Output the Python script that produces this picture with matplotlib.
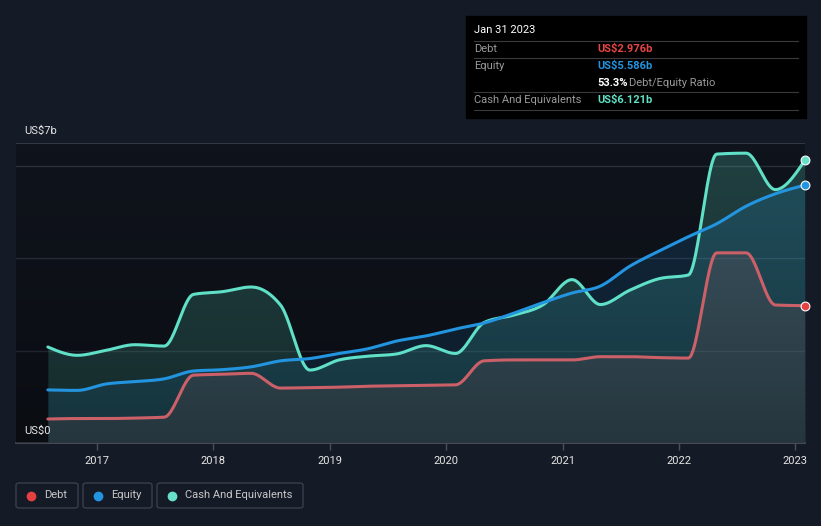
import numpy as np
import pandas as pd
import matplotlib
matplotlib.use('Agg')
import matplotlib.pyplot as plt
import matplotlib.dates as mdates
from matplotlib.patches import FancyBboxPatch, Rectangle
from matplotlib.lines import Line2D

plt.rcParams['font.family'] = ['Roboto', 'DejaVu Sans']

# quarterly balance sheet values, US$ billions
dates = pd.date_range('2016-07-31', '2023-01-31', freq='3ME')
debt = [0.52, 0.53, 0.53, 0.54, 0.56, 1.47, 1.49, 1.51, 1.19, 1.20, 1.21, 1.23, 1.24, 1.25,
        1.26, 1.78, 1.80, 1.80, 1.80, 1.87, 1.87, 1.85, 1.84, 4.12, 4.12, 2.99, 2.976]
equity = [1.15, 1.14, 1.28, 1.33, 1.39, 1.56, 1.59, 1.65, 1.78, 1.83, 1.94, 2.04, 2.21, 2.32,
          2.47, 2.60, 2.81, 3.04, 3.25, 3.40, 3.83, 4.16, 4.47, 4.75, 5.13, 5.40, 5.586]
cash = [2.08, 1.90, 2.01, 2.13, 2.10, 3.22, 3.28, 3.38, 2.99, 1.58, 1.80, 1.88, 1.93, 2.11,
        1.94, 2.61, 2.77, 2.99, 3.54, 3.00, 3.31, 3.56, 3.64, 6.26, 6.28, 5.49, 6.121]
years = [2017, 2018, 2019, 2020, 2021, 2022, 2023]

BG = '#151b26'
PLOT_BG = '#0f131b'
C_DEBT = '#cc6068'
C_EQ = '#2394df'
C_CASH = '#5fe0c7'
W, H = 821, 526


def fx(px):
    return px / W


def fy(py):
    return 1 - py / H


def monotone_curve(x, y, n=24):
    # monotone cubic (same idea as d3 curveMonotoneX), only for drawing
    x = np.asarray(x, float)
    y = np.asarray(y, float)
    h = np.diff(x)
    s = np.diff(y) / h
    m = np.zeros_like(y)
    for k in range(1, len(y) - 1):
        s0, s1, h0, h1 = s[k - 1], s[k], h[k - 1], h[k]
        p = (s0 * h1 + s1 * h0) / (h0 + h1)
        m[k] = (np.sign(s0) + np.sign(s1)) * min(abs(s0), abs(s1), 0.5 * abs(p))
    m[0] = (3 * s[0] - m[1]) / 2
    m[-1] = (3 * s[-1] - m[-2]) / 2
    xs, ys = [], []
    for k in range(len(h)):
        t = np.linspace(0, 1, n, endpoint=False)
        h00 = 2 * t**3 - 3 * t**2 + 1
        h10 = t**3 - 2 * t**2 + t
        h01 = -2 * t**3 + 3 * t**2
        h11 = t**3 - t**2
        xs.append(x[k] + t * h[k])
        ys.append(h00 * y[k] + h10 * h[k] * m[k] + h01 * y[k + 1] + h11 * h[k] * m[k + 1])
    xs.append([x[-1]])
    ys.append([y[-1]])
    return np.concatenate(xs), np.concatenate(ys)


fig = plt.figure(figsize=(W / 100, H / 100), dpi=100, facecolor=BG)
ax = fig.add_axes([fx(16), fy(443), fx(805) - fx(16), fy(143) - fy(443)])
ax.set_facecolor(PLOT_BG)

xnum = mdates.date2num(dates)
x_left = mdates.date2num(pd.Timestamp('2016-04-22'))
x_right = mdates.date2num(pd.Timestamp('2023-02-01'))
ax.set_xlim(x_left, x_right)
ax.set_ylim(0, 6.5)

for v in [2, 4, 6]:
    ax.axhline(v, color='#2a303a', lw=1, zorder=1)
ax.axhline(6.5, color='#3a404a', lw=1.2, zorder=1)

# areas
xs, ys_c = monotone_curve(xnum, cash)
_, ys_e = monotone_curve(xnum, equity)
_, ys_d = monotone_curve(xnum, debt)
ax.fill_between(xs, 0, ys_c, color=C_CASH, alpha=0.22, lw=0, zorder=2)
ax.fill_between(xs, 0, ys_e, color=C_EQ, alpha=0.17, lw=0, zorder=2)
ax.fill_between(xs, 0, ys_d, color='#d0707a', alpha=0.15, lw=0, zorder=2)

# darken towards the bottom
grad = np.linspace(0, 1, 256).reshape(-1, 1)
ax.imshow(np.dstack([np.zeros_like(grad)] * 3 + [grad ** 1.3 * 0.35]), aspect='auto',
          extent=[x_left, x_right, 0, 6.5], origin='upper', zorder=3)
ax.set_xlim(x_left, x_right)
ax.set_ylim(0, 6.5)

ax.plot(xs, ys_c, color=C_CASH, lw=2.2, zorder=5, solid_capstyle='round')
ax.plot(xs, ys_e, color=C_EQ, lw=2.2, zorder=6, solid_capstyle='round')
ax.plot(xs, ys_d, color=C_DEBT, lw=2.2, zorder=4, solid_capstyle='round')

ax.scatter([xnum[-1]], [cash[-1]], s=40, color='#68e0c9', edgecolor='white', lw=0.8, zorder=8, clip_on=False)
ax.scatter([xnum[-1]], [equity[-1]], s=40, color=C_EQ, edgecolor='white', lw=0.8, zorder=8, clip_on=False)
ax.scatter([xnum[-1]], [debt[-1]], s=40, color='#e64141', edgecolor='white', lw=0.8, zorder=8, clip_on=False)

for s in ['top', 'right', 'left']:
    ax.spines[s].set_visible(False)
ax.spines['bottom'].set_color('#4a505a')
ax.spines['bottom'].set_linewidth(1.2)
ax.set_yticks([])
ax.set_xticks(mdates.date2num([pd.Timestamp(f'{y}-01-01') for y in years]))
ax.set_xticklabels([str(y) for y in years])
ax.tick_params(axis='x', colors='#4a505a', length=5, width=1, labelcolor='#e6e6e6',
               labelsize=8, pad=4)

fig.text(fx(24), fy(131), 'US$7b', color='#e6e6e6', fontsize=8, va='center', ha='left')
fig.text(fx(24), fy(431), 'US$0', color='#e6e6e6', fontsize=8, va='center', ha='left')

# tooltip box
fig.patches.append(Rectangle((fx(466), fy(118)), fx(806) - fx(466), fy(16) - fy(118),
                             transform=fig.transFigure, color='#000000', zorder=10))
for yy in [41, 58, 92, 110]:
    fig.add_artist(Line2D([fx(474), fx(798)], [fy(yy), fy(yy)], color='#3a3a3a', lw=0.8, zorder=11))
fig.text(fx(474), fy(30), 'Jan 31 2023', color='white', fontsize=8, va='center', zorder=12)
rows = [(49, 'Debt', 'US$2.976b', '#e84545'),
        (66, 'Equity', 'US$5.586b', C_EQ),
        (100, 'Cash And Equivalents', 'US$6.121b', C_CASH)]
for yy, lab, val, col in rows:
    fig.text(fx(474), fy(yy), lab, color='#9a9a9a', fontsize=8, va='center', zorder=12)
    fig.text(fx(597), fy(yy), val, color=col, fontsize=8, fontweight='bold', va='center', zorder=12)
fig.text(fx(597), fy(83), '53.3%', color='white', fontsize=8, fontweight='bold', va='center', zorder=12)
fig.text(fx(629), fy(83), 'Debt/Equity Ratio', color='#9a9a9a', fontsize=8, va='center', zorder=12)

# legend boxes
legend = [(16, 78, 'Debt', '#e64141'), (83, 152, 'Equity', C_EQ),
          (157, 303, 'Cash And Equivalents', '#68e0c9')]
for x0, x1, lab, col in legend:
    fig.patches.append(FancyBboxPatch((fx(x0), fy(508)), fx(x1) - fx(x0), fy(483) - fy(508),
                                      boxstyle='round,pad=0,rounding_size=0.004',
                                      transform=fig.transFigure, facecolor=BG,
                                      edgecolor='#3a404a', lw=1))
    fig.add_artist(Line2D([fx(x0 + 15)], [fy(495.5)], marker='o', ms=6, color=col, lw=0))
    fig.text(fx(x0 + 28), fy(495.5), lab, color='#c8c8c8', fontsize=8, va='center')

fig.savefig('out.png', dpi=100, facecolor=BG)
